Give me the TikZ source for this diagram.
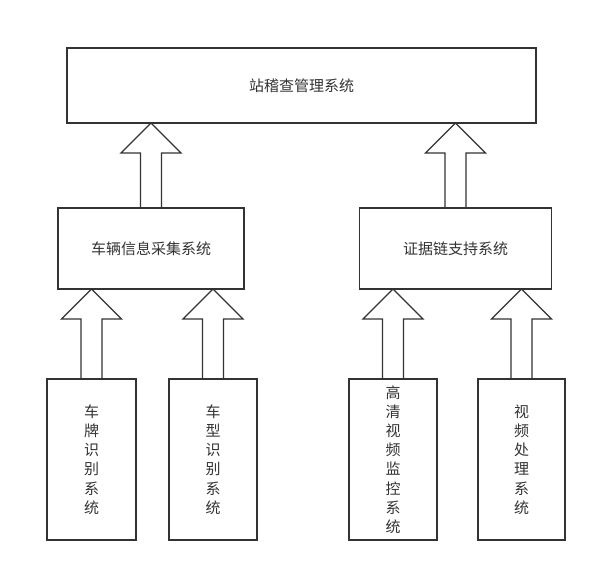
\documentclass[tikz,border=0pt]{standalone}
\usepackage{fontspec}
\newfontfamily\cjk{Noto Sans CJK SC}
\usetikzlibrary{calc}
\definecolor{linegray}{RGB}{51,51,51}
\tikzset{
  sysbox/.style={draw=linegray, line width=1.5pt, inner sep=0pt, outer sep=0pt,
    align=center, text=linegray},
  uparrow/.style={draw=linegray, line width=1.3pt, line join=miter},
}
\newcommand{\upblock}[2]{%
  \draw[uparrow] let \p1=(#1.north), \p2=(#2.south) in
    (\x1-10.5pt,\y1) -- (\x1-10.5pt,\y2-30pt) -- (\x1-30pt,\y2-30pt) -- (\x1,\y2)
    -- (\x1+30pt,\y2-30pt) -- (\x1+10.5pt,\y2-30pt) -- (\x1+10.5pt,\y1);}
\begin{document}
\begin{tikzpicture}[x=1pt,y=-1pt,font=\cjk\fontsize{15}{19.2}\selectfont]
\useasboundingbox (0,0) rectangle (596,572);
\node[sysbox, minimum width=469pt, minimum height=75pt] (top) at (301.5,85.5) {站稽查管理系统};
\node[sysbox, minimum width=186pt, minimum height=81pt] (vehicle) at (151,248.5) {车辆信息采集系统};
\node[sysbox, minimum width=192pt, minimum height=81pt] (evidence) at (455.5,248.5) {证据链支持系统};
\node[sysbox, minimum width=89pt, minimum height=161pt] (plate) at (91.5,459.5) {车\\牌\\识\\别\\系\\统};
\node[sysbox, minimum width=88pt, minimum height=161pt] (model) at (213,459.5) {车\\型\\识\\别\\系\\统};
\node[sysbox, minimum width=88pt, minimum height=161pt] (monitor) at (393,459.5) {高\\清\\视\\频\\监\\控\\系\\统};
\node[sysbox, minimum width=87pt, minimum height=161pt] (video) at (521.5,459.5) {视\\频\\处\\理\\系\\统};
\upblock{vehicle}{top}
\upblock{evidence}{top}
\upblock{plate}{vehicle}
\upblock{model}{vehicle}
\upblock{monitor}{evidence}
\upblock{video}{evidence}
\end{tikzpicture}
\end{document}
